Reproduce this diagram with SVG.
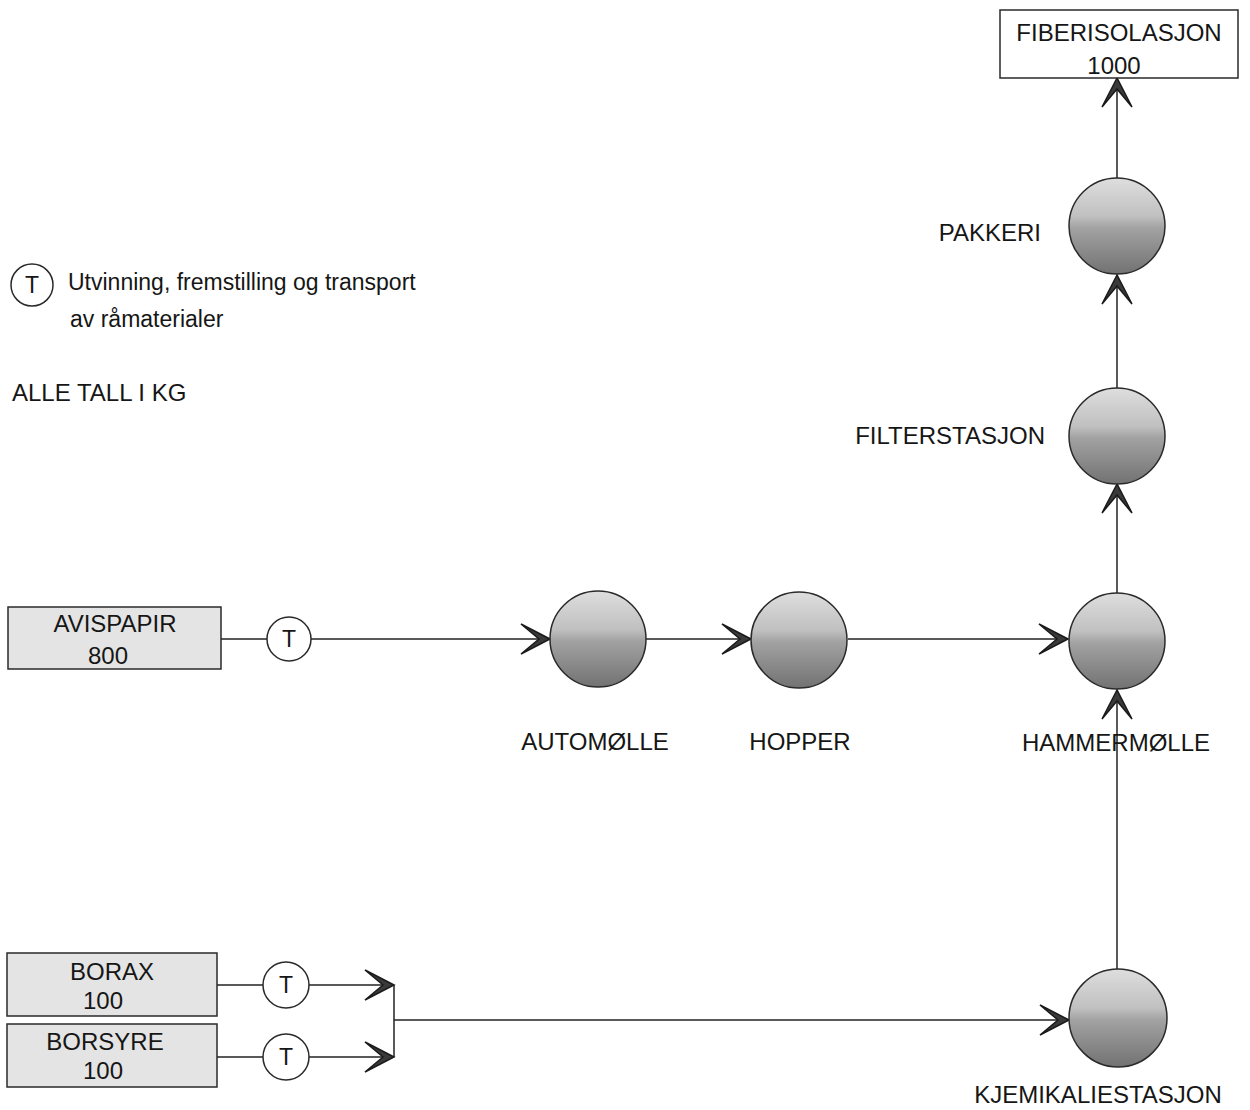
<svg xmlns="http://www.w3.org/2000/svg" width="1250" height="1110" viewBox="0 0 1250 1110">
  <defs>
    <style>
      text { font-family: "Liberation Sans", Arial, sans-serif; fill: #161616; }
      .lbl { font-size: 24px; }
      .leg { font-size: 23px; }
      .t { font-size: 23px; text-anchor: middle; }
      .box { stroke: #2a2a2a; stroke-width: 1.5; }
      .src { fill: #e4e4e4; }
      .out { fill: #ffffff; }
      .ball { fill: url(#ballShade); stroke: #2a2a2a; stroke-width: 1.5; }
      .tc { fill: #ffffff; stroke: #2a2a2a; stroke-width: 1.5; }
      .flow { stroke: #222; stroke-width: 1.5; fill: none; }
      .arrow { marker-end: url(#head); }
    </style>
    <linearGradient id="ballShade" x1="0" y1="0" x2="0" y2="1">
      <stop offset="0" stop-color="#dedede"/>
      <stop offset="0.4" stop-color="#c0c0c0"/>
      <stop offset="0.52" stop-color="#a2a2a2"/>
      <stop offset="1" stop-color="#727272"/>
    </linearGradient>
    <marker id="head" viewBox="-32 -18 34 36" refX="0" refY="0" markerWidth="34" markerHeight="36" markerUnits="userSpaceOnUse" orient="auto">
      <path d="M0,0 L-29,-15 L-11,0 L-29,15 Z" fill="#3a3a3a" stroke="#1a1a1a" stroke-width="1.5" stroke-linejoin="miter"/>
    </marker>
  </defs>

  <!-- legend -->
  <g id="legend">
    <circle class="tc" cx="32" cy="285" r="21"/>
    <text class="t" x="32" y="293">T</text>
    <text class="leg" x="68" y="290">Utvinning, fremstilling og transport</text>
    <text class="leg" x="70" y="327">av råmaterialer</text>
    <text class="lbl" x="12" y="401">ALLE TALL I KG</text>
  </g>

  <!-- connectors -->
  <g id="connectors">
    <line class="flow" x1="221" y1="639" x2="267" y2="639"/>
    <line class="flow arrow" x1="311" y1="639" x2="550" y2="639"/>
    <line class="flow arrow" x1="646" y1="639" x2="751" y2="639"/>
    <line class="flow arrow" x1="848" y1="639" x2="1068" y2="639"/>
    <line class="flow arrow" x1="1117" y1="969" x2="1117" y2="690"/>
    <line class="flow arrow" x1="1117" y1="593" x2="1117" y2="484"/>
    <line class="flow arrow" x1="1117" y1="388" x2="1117" y2="275"/>
    <line class="flow arrow" x1="1117" y1="178" x2="1117" y2="78"/>
    <line class="flow" x1="217" y1="985" x2="263" y2="985"/>
    <line class="flow arrow" x1="309" y1="985" x2="394" y2="985"/>
    <line class="flow" x1="217" y1="1057" x2="263" y2="1057"/>
    <line class="flow arrow" x1="309" y1="1057" x2="394" y2="1057"/>
    <line class="flow" x1="394" y1="985" x2="394" y2="1057"/>
    <line class="flow arrow" x1="394" y1="1020" x2="1069" y2="1020"/>
  </g>

  <!-- transport stops -->
  <g id="t-avispapir">
    <circle class="tc" cx="289" cy="639" r="22"/>
    <text class="t" x="289" y="647">T</text>
  </g>
  <g id="t-borax">
    <circle class="tc" cx="286" cy="985" r="23"/>
    <text class="t" x="286" y="993">T</text>
  </g>
  <g id="t-borsyre">
    <circle class="tc" cx="286" cy="1057" r="23"/>
    <text class="t" x="286" y="1065">T</text>
  </g>

  <!-- raw material boxes -->
  <g id="avispapir">
    <rect class="box src" x="8" y="607" width="213" height="62"/>
    <text class="lbl" x="115" y="632" text-anchor="middle">AVISPAPIR</text>
    <text class="lbl" x="108" y="664" text-anchor="middle">800</text>
  </g>
  <g id="borax">
    <rect class="box src" x="7" y="953" width="210" height="63"/>
    <text class="lbl" x="112" y="980" text-anchor="middle">BORAX</text>
    <text class="lbl" x="103" y="1009" text-anchor="middle">100</text>
  </g>
  <g id="borsyre">
    <rect class="box src" x="7" y="1024" width="210" height="63"/>
    <text class="lbl" x="105" y="1050" text-anchor="middle">BORSYRE</text>
    <text class="lbl" x="103" y="1079" text-anchor="middle">100</text>
  </g>

  <!-- product box -->
  <g id="fiberisolasjon">
    <rect class="box out" x="1000" y="10" width="238" height="68"/>
    <text class="lbl" x="1119" y="41" text-anchor="middle">FIBERISOLASJON</text>
    <text class="lbl" x="1114" y="74" text-anchor="middle">1000</text>
  </g>

  <!-- process stations -->
  <g id="automolle">
    <circle class="ball" cx="598" cy="639" r="48"/>
    <text class="lbl" x="595" y="750" text-anchor="middle">AUTOMØLLE</text>
  </g>
  <g id="hopper">
    <circle class="ball" cx="799" cy="640" r="48"/>
    <text class="lbl" x="800" y="750" text-anchor="middle">HOPPER</text>
  </g>
  <g id="hammermolle">
    <circle class="ball" cx="1117" cy="641" r="48"/>
    <text class="lbl" x="1116" y="751" text-anchor="middle">HAMMERMØLLE</text>
  </g>
  <g id="filterstasjon">
    <circle class="ball" cx="1117" cy="436" r="48"/>
    <text class="lbl" x="1045" y="444" text-anchor="end">FILTERSTASJON</text>
  </g>
  <g id="pakkeri">
    <circle class="ball" cx="1117" cy="226" r="48"/>
    <text class="lbl" x="1041" y="241" text-anchor="end">PAKKERI</text>
  </g>
  <g id="kjemikaliestasjon">
    <circle class="ball" cx="1118" cy="1018" r="49"/>
    <text class="lbl" x="1098" y="1103" text-anchor="middle">KJEMIKALIESTASJON</text>
  </g>
</svg>
